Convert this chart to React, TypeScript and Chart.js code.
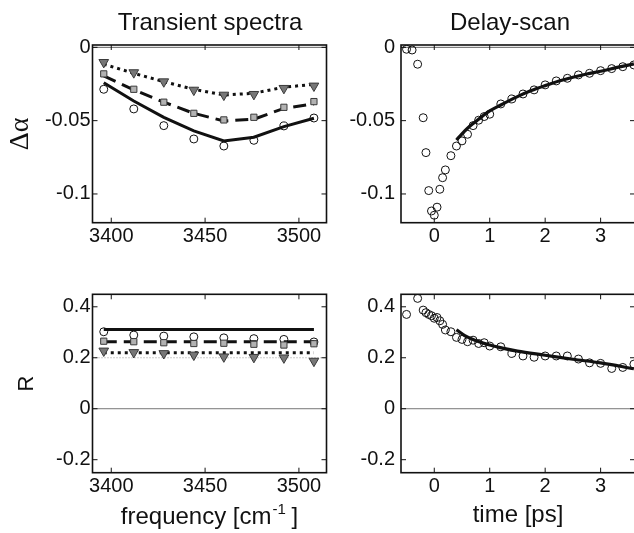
import React, { useEffect, useRef } from 'react';
import { Chart, registerables } from 'chart.js';

Chart.register(...registerables);

// ---------------- Data ----------------
// Transient spectra (top-left), x = frequency [cm-1]
const specFreq = [3396, 3412, 3428, 3444, 3460, 3476, 3492, 3508];
const specCircles = [-0.0286, -0.042, -0.0534, -0.0625, -0.0673, -0.0634, -0.0536, -0.0482];
const specSolid = [-0.0241, -0.0366, -0.0477, -0.057, -0.0638, -0.0613, -0.0541, -0.0484];
const specSquares = [-0.0181, -0.0286, -0.0374, -0.045, -0.0495, -0.0477, -0.0409, -0.037];
const specDashed = [-0.0195, -0.029, -0.0374, -0.045, -0.0502, -0.049, -0.0416, -0.0386];
const specTriangles = [-0.0102, -0.0172, -0.0234, -0.0291, -0.0325, -0.032, -0.0279, -0.0263];
const specDotted = [-0.0115, -0.0177, -0.0234, -0.0286, -0.0325, -0.0313, -0.0272, -0.0252];

// Anisotropy R vs frequency (bottom-left)
const rCircles = [0.302, 0.289, 0.285, 0.282, 0.278, 0.275, 0.272, 0.262];
const rSquares = [0.265, 0.263, 0.259, 0.256, 0.257, 0.253, 0.25, 0.255];
const rTriangles = [0.227, 0.221, 0.217, 0.211, 0.204, 0.202, 0.2, 0.187];
const rSolid = [0.311, 0.311, 0.311, 0.311, 0.311, 0.311, 0.311, 0.311];
const rDashed = [0.263, 0.263, 0.263, 0.263, 0.263, 0.263, 0.263, 0.263];
const rDotted = [0.22, 0.22, 0.22, 0.22, 0.22, 0.22, 0.22, 0.22];
const rReferenceLevel = 0.2;

// Delay scan (top-right), x = time [ps]
const delayT = [-0.5, -0.4, -0.3, -0.2, -0.15, -0.1, -0.05, 0, 0.05, 0.1, 0.15, 0.2, 0.3, 0.4, 0.5, 0.6, 0.7, 0.8, 0.9, 1.0, 1.2, 1.4, 1.6, 1.8, 2.0, 2.2, 2.4, 2.6, 2.8, 3.0, 3.2, 3.4, 3.6];
const delayDA = [-0.0013, -0.0018, -0.0115, -0.048, -0.0718, -0.0977, -0.1116, -0.1145, -0.109, -0.0968, -0.0889, -0.0836, -0.0739, -0.0673, -0.0638, -0.0593, -0.0534, -0.0497, -0.0472, -0.0456, -0.0386, -0.0352, -0.0318, -0.029, -0.0256, -0.0229, -0.0211, -0.0188, -0.0177, -0.0159, -0.0145, -0.0132, -0.012];
const delayFitT = [0.4, 0.5, 0.6, 0.7, 0.8, 0.9, 1.0, 1.2, 1.5, 1.75, 2.0, 2.25, 2.5, 2.75, 3.0, 3.3, 3.6];
const delayFitDA = [-0.0632, -0.059, -0.0552, -0.052, -0.049, -0.046, -0.0434, -0.0393, -0.0336, -0.0295, -0.0261, -0.023, -0.0204, -0.0182, -0.0163, -0.0137, -0.0113];

// Delay scan anisotropy (bottom-right)
const rDelayT = [-0.5, -0.3, -0.2, -0.15, -0.1, -0.05, 0, 0.05, 0.1, 0.15, 0.2, 0.3, 0.4, 0.5, 0.6, 0.7, 0.8, 0.9, 1.0, 1.2, 1.4, 1.6, 1.8, 2.0, 2.2, 2.4, 2.6, 2.8, 3.0, 3.2, 3.4, 3.6];
const rDelayR = [0.37, 0.433, 0.387, 0.377, 0.37, 0.365, 0.355, 0.358, 0.345, 0.331, 0.309, 0.302, 0.28, 0.272, 0.263, 0.269, 0.256, 0.259, 0.246, 0.243, 0.217, 0.207, 0.202, 0.207, 0.207, 0.207, 0.195, 0.18, 0.178, 0.158, 0.162, 0.175];
const rFitT = [0.4, 0.55, 0.7, 0.85, 1.0, 1.25, 1.5, 2.0, 2.5, 3.0, 3.6];
const rFitR = [0.31, 0.287, 0.272, 0.26, 0.25, 0.237, 0.226, 0.21, 0.194, 0.18, 0.157];

// Ticks
const freqTicks = [3400, 3450, 3500];
const timeTicks = [0, 1, 2, 3];
const daTicks = [0, -0.05, -0.1];
const rTicks = [-0.2, 0, 0.2, 0.4];

// Texts
const titleSpectra = 'Transient spectra';
const titleDelay = 'Delay-scan';
const yLabelDA = 'Δα';
const yLabelR = 'R';
const xLabelFreqMain = 'frequency [cm';
const xLabelFreqSup = '-1';
const xLabelFreqEnd = ' ]';
const xLabelTime = 'time [ps]';

// ---------------- Helpers ----------------
const CW = 640;
const CH = 533;
const SANS = '"Liberation Sans", Arial, Helvetica, sans-serif';

const pts = (xs: number[], ys: number[]) => xs.map((x, i) => ({ x, y: ys[i] }));

const markerCircle = (data: any) => ({
  data, showLine: false, pointStyle: 'circle', pointRadius: 4,
  pointBackgroundColor: 'rgba(0,0,0,0)', pointBorderColor: '#111', pointBorderWidth: 1,
});
const markerSquare = (data: any) => ({
  data, showLine: false, pointStyle: 'rect', pointRadius: 4.4,
  pointBackgroundColor: '#b2b2b2', pointBorderColor: '#3a3a3a', pointBorderWidth: 1,
});
const markerTriangle = (data: any) => ({
  data, showLine: false, pointStyle: 'triangle', pointRotation: 180, pointRadius: 5.6,
  pointBackgroundColor: '#777777', pointBorderColor: '#3a3a3a', pointBorderWidth: 1,
});
const lineDs = (data: any, dash: number[], width = 3, cubic = false) => ({
  data, showLine: true, pointRadius: 0, borderColor: '#111', borderWidth: width,
  borderDash: dash, borderCapStyle: 'butt', fill: false,
  cubicInterpolationMode: cubic ? 'monotone' : 'default', tension: 0,
});

type Panel = {
  left: number; top: number; right: number; bottom: number;
  xMin: number; xMax: number; yMin: number; yMax: number;
  xTicks: number[]; yTicks: number[]; yPad: number;
  datasets: any[];
  hLines: { v: number; color: string; dash: number[]; width: number }[];
  yTitle?: { text: string; family: string; size: number; pad: number };
  xTitle?: { text: string; pad: number };
  draw?: (chart: any) => void;
};

function makeConfig(p: Panel) {
  const frame = {
    id: 'frame',
    beforeDatasetsDraw(chart: any) {
      const { ctx, chartArea: a, scales } = chart;
      ctx.save();
      for (const h of p.hLines) {
        const y = scales.y.getPixelForValue(h.v);
        ctx.beginPath();
        ctx.strokeStyle = h.color;
        ctx.lineWidth = h.width;
        ctx.setLineDash(h.dash);
        ctx.moveTo(a.left, y);
        ctx.lineTo(a.right, y);
        ctx.stroke();
      }
      ctx.restore();
    },
    afterDatasetsDraw(chart: any) {
      const { ctx, chartArea: a, scales } = chart;
      const L = 5;
      ctx.save();
      ctx.setLineDash([]);
      ctx.strokeStyle = '#111';
      ctx.lineWidth = 1;
      for (const v of p.xTicks) {
        const x = scales.x.getPixelForValue(v);
        ctx.beginPath();
        ctx.moveTo(x, a.bottom); ctx.lineTo(x, a.bottom - L);
        ctx.moveTo(x, a.top); ctx.lineTo(x, a.top + L);
        ctx.stroke();
      }
      for (const v of p.yTicks) {
        const y = scales.y.getPixelForValue(v);
        ctx.beginPath();
        ctx.moveTo(a.left, y); ctx.lineTo(a.left + L, y);
        ctx.moveTo(a.right, y); ctx.lineTo(a.right - L, y);
        ctx.stroke();
      }
      ctx.lineWidth = 1.6;
      ctx.strokeRect(a.left, a.top, a.right - a.left, a.bottom - a.top);
      ctx.restore();
      if (p.draw) p.draw(chart);
    },
  };

  return {
    type: 'scatter',
    data: { datasets: p.datasets },
    options: {
      animation: false,
      responsive: false,
      devicePixelRatio: 1,
      events: [],
      layout: { padding: { left: 0, top: p.top, right: CW - p.right, bottom: 0 } },
      plugins: { legend: { display: false }, tooltip: { enabled: false }, title: { display: false } },
      scales: {
        x: {
          type: 'linear', position: 'bottom', min: p.xMin, max: p.xMax,
          afterFit: (s: any) => { s.height = CH - p.bottom; },
          afterBuildTicks: (s: any) => { s.ticks = p.xTicks.map((v) => ({ value: v })); },
          ticks: {
            callback: (v: any) => String(v), color: '#111', padding: 2,
            font: { family: SANS, size: 20 }, maxRotation: 0, autoSkip: false,
          },
          grid: { display: false, drawTicks: false },
          border: { display: false },
          title: p.xTitle
            ? { display: true, text: p.xTitle.text, color: '#111', font: { family: SANS, size: 24 }, padding: { top: 0, bottom: p.xTitle.pad } }
            : { display: false },
        },
        y: {
          type: 'linear', position: 'left', min: p.yMin, max: p.yMax,
          afterFit: (s: any) => { s.width = p.left; },
          afterBuildTicks: (s: any) => { s.ticks = p.yTicks.map((v) => ({ value: v })); },
          ticks: {
            callback: (v: any) => String(v), color: '#111', padding: p.yPad,
            font: { family: SANS, size: 20 }, autoSkip: false,
          },
          grid: { display: false, drawTicks: false },
          border: { display: false },
          title: p.yTitle
            ? { display: true, text: p.yTitle.text, color: '#111', font: { family: p.yTitle.family, size: p.yTitle.size }, padding: { top: p.yTitle.pad, bottom: 0 } }
            : { display: false },
        },
      },
    },
    plugins: [frame],
  };
}

function drawCenteredText(ctx: any, text: string, cx: number, baseline: number, size: number) {
  ctx.save();
  ctx.fillStyle = '#111';
  ctx.font = `${size}px ${SANS}`;
  ctx.textAlign = 'center';
  ctx.textBaseline = 'alphabetic';
  ctx.fillText(text, cx, baseline);
  ctx.restore();
}

const panels: Panel[] = [
  {
    left: 92.5, top: 45, right: 326.5, bottom: 222.7,
    xMin: 3390, xMax: 3514.7, yMin: -0.1196, yMax: 0.0016,
    xTicks: freqTicks, yTicks: daTicks, yPad: 2,
    hLines: [{ v: 0, color: '#666', dash: [], width: 1 }],
    yTitle: { text: yLabelDA, family: '"Liberation Serif", "DejaVu Serif", serif', size: 28, pad: 4 },
    datasets: [
      markerTriangle(pts(specFreq, specTriangles)),
      markerSquare(pts(specFreq, specSquares)),
      markerCircle(pts(specFreq, specCircles)),
      lineDs(pts(specFreq, specSolid), []),
      lineDs(pts(specFreq, specDashed), [13, 7]),
      lineDs(pts(specFreq, specDotted), [3, 4]),
    ],
    draw: (chart: any) => drawCenteredText(chart.ctx, titleSpectra, 210, 30, 24),
  },
  {
    left: 401, top: 45, right: 636, bottom: 222.7,
    xMin: -0.6, xMax: 3.62, yMin: -0.1196, yMax: 0.0016,
    xTicks: timeTicks, yTicks: daTicks, yPad: 6,
    hLines: [{ v: 0, color: '#666', dash: [], width: 1 }],
    datasets: [
      lineDs(pts(delayFitT, delayFitDA), [], 3.2, true),
      markerCircle(pts(delayT, delayDA)),
    ],
    draw: (chart: any) => drawCenteredText(chart.ctx, titleDelay, 510, 30, 24),
  },
  {
    left: 92.5, top: 294.3, right: 326.5, bottom: 472.7,
    xMin: 3390, xMax: 3514.7, yMin: -0.251, yMax: 0.449,
    xTicks: freqTicks, yTicks: rTicks, yPad: 2,
    hLines: [
      { v: 0, color: '#777', dash: [], width: 1 },
      { v: rReferenceLevel, color: '#999', dash: [1, 2], width: 1 },
    ],
    yTitle: { text: yLabelR, family: SANS, size: 22, pad: 13.5 },
    datasets: [
      markerTriangle(pts(specFreq, rTriangles)),
      markerSquare(pts(specFreq, rSquares)),
      markerCircle(pts(specFreq, rCircles)),
      lineDs(pts(specFreq, rSolid), []),
      lineDs(pts(specFreq, rDashed), [13, 7]),
      lineDs(pts(specFreq, rDotted), [3, 4]),
    ],
    draw: (chart: any) => {
      const { ctx, chartArea: a } = chart;
      ctx.save();
      ctx.fillStyle = '#111';
      ctx.textBaseline = 'alphabetic';
      ctx.textAlign = 'left';
      const big = `24px ${SANS}`;
      const small = `15px ${SANS}`;
      ctx.font = big;
      const w1 = ctx.measureText(xLabelFreqMain).width;
      const w3 = ctx.measureText(xLabelFreqEnd).width;
      ctx.font = small;
      const w2 = ctx.measureText(xLabelFreqSup).width;
      const total = w1 + w2 + w3;
      const cx = (a.left + a.right) / 2;
      let x = cx - total / 2;
      const base = 524;
      ctx.font = big;
      ctx.fillText(xLabelFreqMain, x, base);
      x += w1;
      ctx.font = small;
      ctx.fillText(xLabelFreqSup, x + 1, base - 10);
      x += w2;
      ctx.font = big;
      ctx.fillText(xLabelFreqEnd, x, base);
      ctx.restore();
    },
  },
  {
    left: 401, top: 294.3, right: 636, bottom: 472.7,
    xMin: -0.6, xMax: 3.62, yMin: -0.251, yMax: 0.449,
    xTicks: timeTicks, yTicks: rTicks, yPad: 6,
    hLines: [{ v: 0, color: '#777', dash: [], width: 1 }],
    xTitle: { text: xLabelTime, pad: 3 },
    datasets: [
      lineDs(pts(rFitT, rFitR), [], 3.2, true),
      markerCircle(pts(rDelayT, rDelayR)),
    ],
  },
];

export default function App() {
  const refs = [useRef<HTMLCanvasElement>(null), useRef<HTMLCanvasElement>(null), useRef<HTMLCanvasElement>(null), useRef<HTMLCanvasElement>(null)];

  useEffect(() => {
    const charts = panels.map((p, i) => new Chart(refs[i].current as HTMLCanvasElement, makeConfig(p) as any));
    return () => charts.forEach((c) => c.destroy());
  }, []);

  return (
    <div style={{ position: 'fixed', left: 0, top: 0, width: 634, height: 533, overflow: 'hidden', background: '#fff' }}>
      {refs.map((r, i) => (
        <canvas key={i} ref={r} width={CW} height={CH}
          style={{ position: 'absolute', left: 0, top: 0, width: CW, height: CH }} />
      ))}
    </div>
  );
}
